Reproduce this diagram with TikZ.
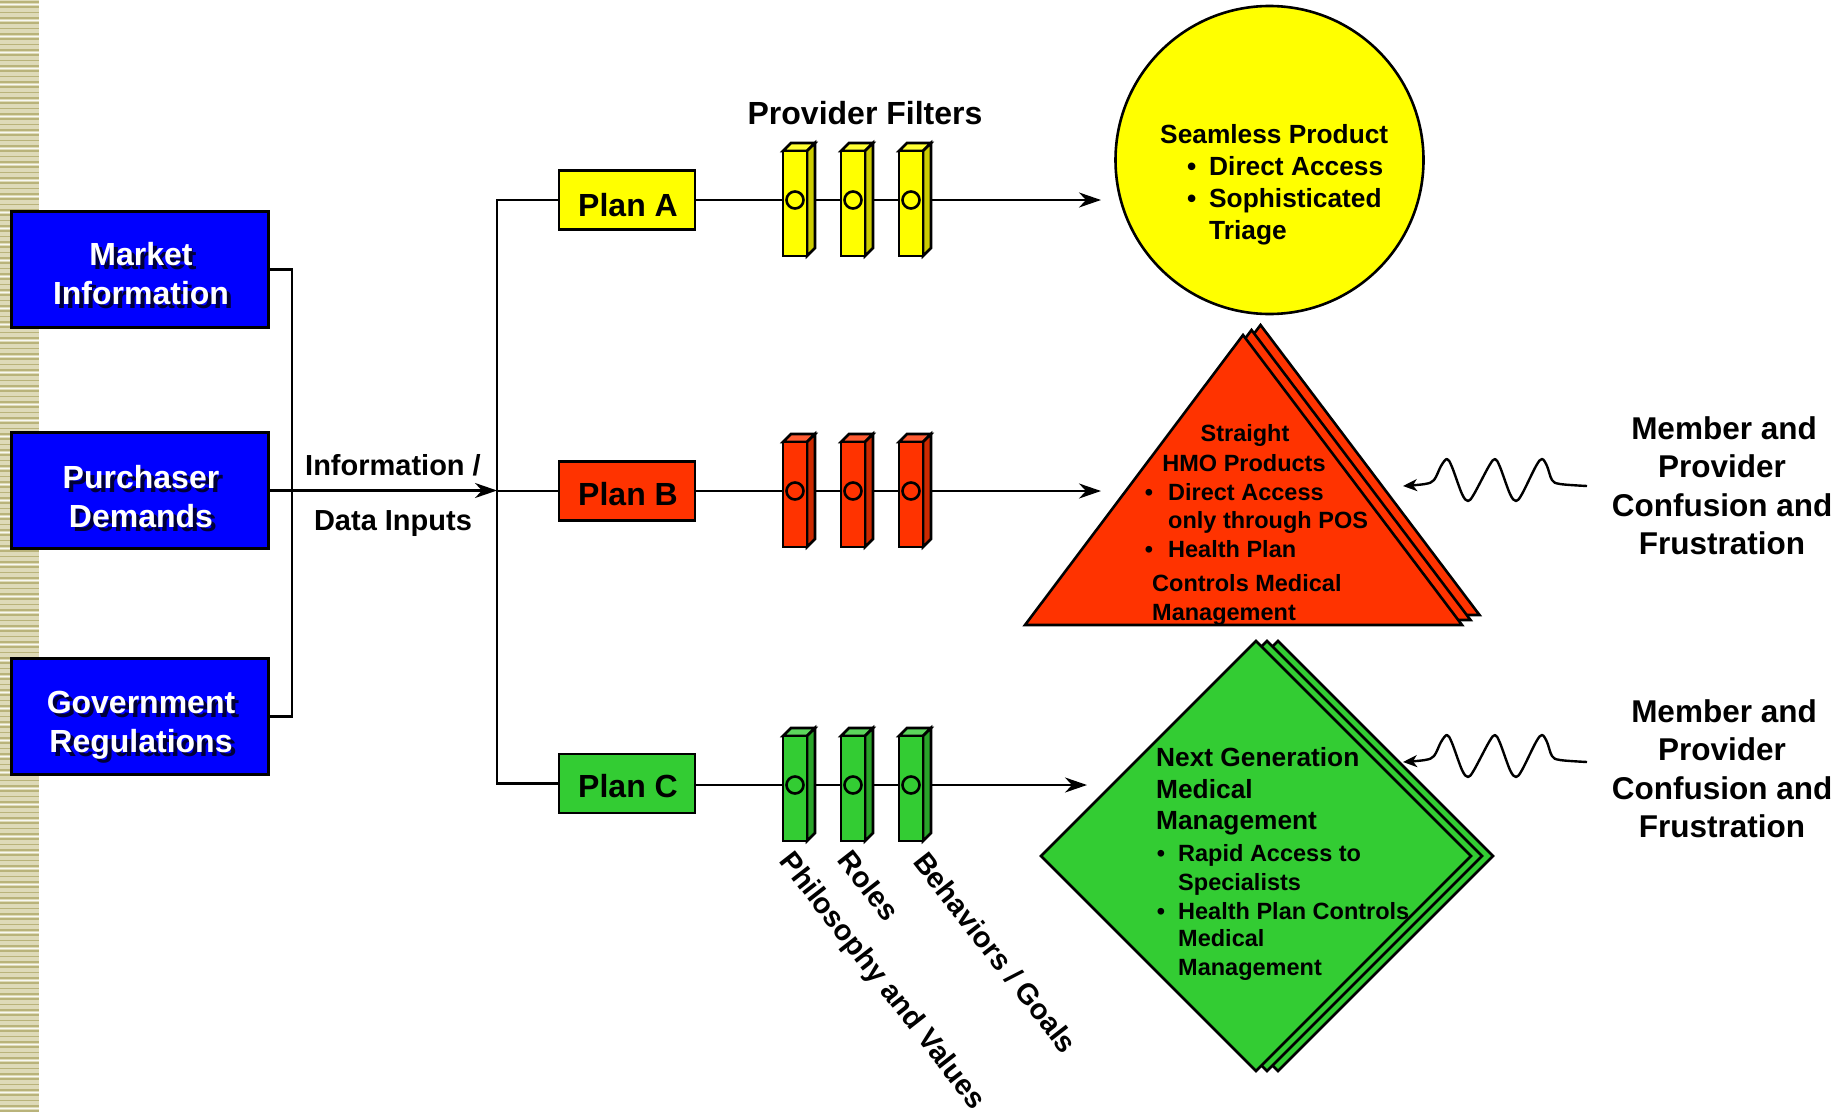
\documentclass[tikz,border=0pt]{standalone}
\usepackage{fontspec}
\setmainfont{Liberation Sans}
\usetikzlibrary{arrows.meta}
\definecolor{boxblue}{HTML}{0000FF}
\definecolor{shadowc}{HTML}{00003A}
\definecolor{yelF}{HTML}{FFFF00}
\definecolor{yelS}{HTML}{CCCC00}
\definecolor{yelT}{HTML}{FFFF33}
\definecolor{redF}{HTML}{FF3300}
\definecolor{redS}{HTML}{CC2900}
\definecolor{redT}{HTML}{FF5C33}
\definecolor{grnF}{HTML}{33CC33}
\definecolor{grnS}{HTML}{29A329}
\definecolor{grnT}{HTML}{5CD65C}
\definecolor{stripeBase}{HTML}{DEDAB8}
\definecolor{stripeDark}{HTML}{B9B37A}
\newcommand\fA{\fontsize{32}{38}\selectfont\bfseries}
\newcommand\fM{\fontsize{31.5}{38.5}\selectfont\bfseries}
\newcommand\fI{\fontsize{29}{35}\selectfont\bfseries}
\newcommand\fC{\fontsize{26.3}{32}\selectfont\bfseries}
\newcommand\fS{\fontsize{23.5}{29}\selectfont\bfseries}
\newcommand\bul[1]{\makebox[0pt][r]{\textbullet\hspace{#1pt}}}
% filter: x0, row y, front, side, top
\newcommand\pfilt[5]{%
  \filldraw[fill=#5, fline] (#1,#2-49) -- ++(8,-8) -- ++(24,0) -- ++(-8,8) -- cycle;
  \filldraw[fill=#4, fline] (#1+24,#2-49) -- ++(8,-8) -- ++(0,105) -- ++(-8,8) -- cycle;
  \filldraw[fill=#3, fline] (#1,#2-49) rectangle ++(24,105);
  \filldraw[fill=#3, fline] (#1+12,#2) circle[radius=8.5];
}
% shadowed white text line: name, x, y(base), text
\newcommand\stext[4]{%
  \node[font=\fA, text=shadowc, anchor=base, inner sep=0] (#1s) at (#2+4,#3+4) {#4};
  \node[font=\fA, text=white, anchor=base, inner sep=0] (#1) at (#2,#3) {#4};
}
\begin{document}
\begin{tikzpicture}[x=1pt,y=-1pt,
  conn/.style={line width=2.6pt},
  arr/.style={conn, -{Stealth[length=22pt,width=15pt,inset=7pt]}},
  warr/.style={line width=2.4pt, line join=round, -{Stealth[length=14pt,width=12pt,inset=4pt]}},
  fline/.style={line width=2.6pt, line join=miter},
  bluebox/.style={draw, line width=3pt, fill=boxblue, minimum width=257pt, minimum height=116pt, inner sep=0},
  planbox/.style={draw, line width=2.6pt, minimum width=136pt, minimum height=59pt, inner sep=0},
  txt/.style={inner sep=0, anchor=base west},
  txc/.style={inner sep=0, anchor=base},
  shape3/.style={draw, line width=2.6pt, line join=miter}
]
\useasboundingbox (0,0) rectangle (1843,1111);
% left stripe
\fill[stripeBase] (0,0) rectangle (39,1111);
\foreach \i in {0,...,208} \fill[stripeDark] (0,\i*5.333+1) rectangle (39,\i*5.333+2.6);
\foreach \i in {0,...,69} \fill[white!80!stripeBase] (0,\i*16+4) rectangle (39,\i*16+5);

% blue boxes
\node[bluebox] (mkt) at (140,269.5) {};
\node[bluebox] (pur) at (140,490.5) {};
\node[bluebox] (gov) at (140,716.5) {};
\stext{mkt1}{141}{265.5}{Market}
\stext{mkt2}{141}{304}{Information}
\stext{pur1}{141}{488.5}{Purchaser}
\stext{pur2}{141}{527.5}{Demands}
\stext{gov1}{141}{713}{Government}
\stext{gov2}{141}{752}{Regulations}

% plan boxes
\node[planbox, fill=yelF] (planA) at (627,200) {};
\node[planbox, fill=redF] (planB) at (627,491) {};
\node[planbox, fill=grnF] (planC) at (627,783.5) {};
\node[txc, font=\fA] (planAt) at (628,216) {Plan A};
\node[txc, font=\fA] (planBt) at (628,505) {Plan B};
\node[txc, font=\fA] (planCt) at (628,797) {Plan C};

\coordinate (busx) at (292,0);
\coordinate (mainx) at (497,0);
\coordinate (tipA) at (1101,200);
\coordinate (tipB) at (1101,491);
\coordinate (tipC) at (1087,785);

% left connectors
\draw[conn] (mkt.east) -- (mkt.east -| busx) -- (gov.east -| busx) -- (gov.east);
\draw[arr] (pur.east) -- (pur.east -| mainx);
\draw[conn] (planA.west) -- (planA.west -| mainx) -- (planC.west -| mainx) -- (planC.west);
\draw[conn] (planB.west -| mainx) -- (planB.west);

\node[txc, font=\fI] (info1) at (393,475.5) {Information /};
\node[txc, font=\fI] (info2) at (393,530.5) {Data Inputs};

% row arrows
\draw[arr] (planA.east) -- (tipA);
\draw[arr] (planB.east) -- (tipB);
\draw[arr] (planC.east |- tipC) -- (tipC);

% filters
\pfilt{783}{200}{yelF}{yelS}{yelT}
\pfilt{841}{200}{yelF}{yelS}{yelT}
\pfilt{899}{200}{yelF}{yelS}{yelT}
\pfilt{783}{491}{redF}{redS}{redT}
\pfilt{841}{491}{redF}{redS}{redT}
\pfilt{899}{491}{redF}{redS}{redT}
\pfilt{783}{785}{grnF}{grnS}{grnT}
\pfilt{841}{785}{grnF}{grnS}{grnT}
\pfilt{899}{785}{grnF}{grnS}{grnT}

\node[txc, font=\fA] (pf) at (865,124.5) {Provider Filters};

% rotated labels
\node[font=\fI, inner sep=0, anchor=west, rotate=-52] (phil) at (784,857) {Philosophy and Values};
\node[font=\fI, inner sep=0, anchor=west, rotate=-52] (roles) at (845,854) {Roles};
\node[font=\fI, inner sep=0, anchor=west, rotate=-52] (behav) at (920,856) {Behaviors / Goals};

% yellow circle
\node[circle, draw, line width=2.6pt, fill=yelF, minimum size=308pt, inner sep=0] (seam) at (1269.5,160) {};
\node[txt, font=\fC] (c1) at (1160,143) {Seamless Product};
\node[txt, font=\fC] (c2) at (1209,175) {\bul{13}Direct Access};
\node[txt, font=\fC] (c3) at (1209,207.5) {\bul{13}Sophisticated};
\node[txt, font=\fC] (c4) at (1209,239.5) {Triage};

% red triangles
\foreach \dx/\dy in {17.5/-10, 8.5/-5, 0/0}
  \filldraw[shape3, fill=redF] (1025+\dx,625+\dy) -- (1462+\dx,625+\dy) -- (1243+\dx,335+\dy) -- cycle;
\node[txc, font=\fS] (t1) at (1245,441.5) {Straight};
\node[txc, font=\fS] (t2) at (1244,471) {HMO Products};
\node[txt, font=\fS] (t3) at (1168,500) {\bul{15}Direct Access};
\node[txt, font=\fS] (t4) at (1168,528.5) {only through POS};
\node[txt, font=\fS] (t5) at (1168,557.5) {\bul{15}Health Plan};
\node[txt, font=\fS] (t6) at (1152,591.5) {Controls Medical};
\node[txt, font=\fS] (t7) at (1152,620) {Management};

% green diamonds
\foreach \dx in {22, 11, 0}
  \filldraw[shape3, fill=grnF] (1041+\dx,856) -- (1256+\dx,641) -- (1471+\dx,856) -- (1256+\dx,1071) -- cycle;
\node[txt, font=\fC] (d1) at (1156,766) {Next Generation};
\node[txt, font=\fC] (d2) at (1156,798.5) {Medical};
\node[txt, font=\fC] (d3) at (1156,829.5) {Management};
\node[txt, font=\fS] (d4) at (1178,861) {\bul{13}Rapid Access to};
\node[txt, font=\fS] (d5) at (1178,890) {Specialists};
\node[txt, font=\fS] (d6) at (1178,919) {\bul{13}Health Plan Controls};
\node[txt, font=\fS] (d7) at (1178,946.5) {Medical};
\node[txt, font=\fS] (d8) at (1178,975.5) {Management};

% member texts
\node[txc, font=\fM] (m1) at (1724,439) {Member and};
\node[txc, font=\fM] (m2) at (1722,477.5) {Provider};
\node[txc, font=\fM] (m3) at (1722,516) {Confusion and};
\node[txc, font=\fM] (m4) at (1722,554.5) {Frustration};
\node[txc, font=\fM] (n1) at (1724,722) {Member and};
\node[txc, font=\fM] (n2) at (1722,760.5) {Provider};
\node[txc, font=\fM] (n3) at (1722,799) {Confusion and};
\node[txc, font=\fM] (n4) at (1722,837.5) {Frustration};

% wavy arrows
\foreach \sy/\nm in {0/B, 276/C} {
 \begin{scope}[shift={(0,\sy)}]
  \coordinate (w\nm start) at (1587,486);
  \coordinate (w\nm end) at (1403,486);
  \draw[warr] plot[smooth, tension=0.55] coordinates {(w\nm start) (1560,484) (1552,480) (1547,466) (1542,459) (1536,466) (1522,494) (1516,501) (1510,494) (1500,467) (1495,459) (1489,466) (1474,494) (1468,501) (1462,494) (1452,467) (1447,459) (1441,466) (1434,480) (1425,484) (w\nm end)};
 \end{scope}
}
\end{tikzpicture}
\end{document}
